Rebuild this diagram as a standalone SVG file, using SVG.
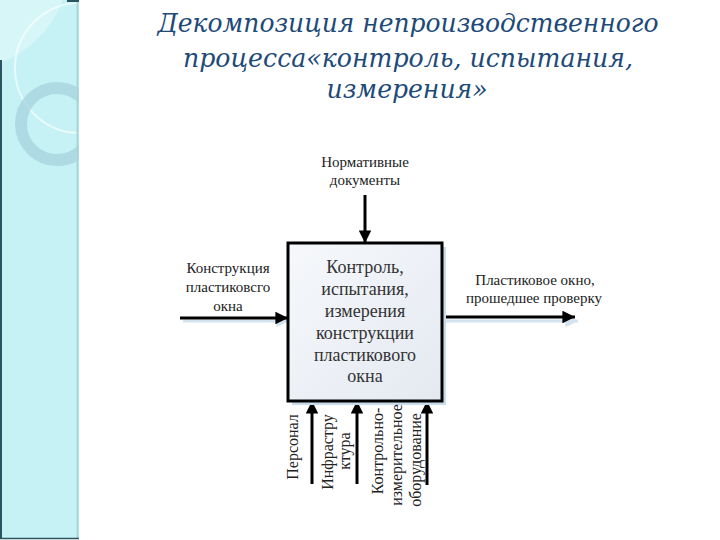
<svg xmlns="http://www.w3.org/2000/svg" width="720" height="540" viewBox="0 0 720 540">
  <defs>
    <clipPath id="stripClip"><rect x="0" y="0" width="79" height="540"/></clipPath>
    <linearGradient id="boxFill" x1="0" y1="0" x2="1" y2="1">
      <stop offset="0" stop-color="#f6f8fb"/>
      <stop offset="1" stop-color="#e4e9f1"/>
    </linearGradient>
    <marker id="head" viewBox="0 0 10 10" refX="10" refY="5" markerWidth="5" markerHeight="4.2" markerUnits="strokeWidth" orient="auto">
      <path d="M0,0 L10,5 L0,10 Z" fill="#000"/>
    </marker>
    <marker id="headShadow" viewBox="0 0 10 10" refX="10" refY="5" markerWidth="5" markerHeight="4.2" markerUnits="strokeWidth" orient="auto">
      <path d="M0,0 L10,5 L0,10 Z" fill="#d3e3f0"/>
    </marker>
  </defs>
  <style>
    .title { font-family: 'DejaVu Serif', 'Liberation Serif', 'Noto Serif', 'Times New Roman', serif; font-style: italic; font-size: 26px; fill: #1d4a78; text-anchor: middle; }
    .lbl { font-family: 'Liberation Serif', 'Times New Roman', 'DejaVu Serif', 'Noto Serif', serif; font-size: 15px; fill: #222; text-anchor: middle; }
    .vlbl { font-family: 'Liberation Serif', 'Times New Roman', 'DejaVu Serif', 'Noto Serif', serif; font-size: 16px; fill: #222; text-anchor: middle; }
    .boxtxt { font-family: 'Liberation Serif', 'Times New Roman', 'DejaVu Serif', 'Noto Serif', serif; font-size: 18px; fill: #333; text-anchor: middle; }
    .arrow { stroke: #000; stroke-width: 3; fill: none; marker-end: url(#head); }
    .shadow { stroke: #d3e3f0; stroke-width: 3; fill: none; marker-end: url(#headShadow); }
  </style>

  <rect x="0" y="0" width="720" height="540" fill="#ffffff"/>

  <!-- decorative left strip -->
  <g id="strip">
    <rect x="0" y="0" width="79" height="539" fill="#c6f2f5"/>
    <g clip-path="url(#stripClip)">
      <path d="M0,0 H63 Q45,45 0,63 Z" fill="#ffffff" opacity="0.3"/>
      <circle cx="80" cy="68" r="65" fill="none" stroke="#ffffff" stroke-width="2" opacity="0.6"/>
      <circle cx="57" cy="124" r="36" fill="none" stroke="#a6d3dc" stroke-width="12" opacity="0.75"/>
    </g>
    <line x1="77.5" y1="0" x2="77.5" y2="539" stroke="#a9d5da" stroke-width="2"/>
    <line x1="1" y1="60" x2="1" y2="539" stroke="#2b5560" stroke-width="2"/>
    <line x1="0" y1="538.5" x2="79" y2="538.5" stroke="#2b5560" stroke-width="1.5"/>
    <line x1="67" y1="1" x2="79" y2="1" stroke="#2b5560" stroke-width="2"/>
  </g>

  <!-- title -->
  <g id="title">
    <text class="title" x="408" y="32" textLength="501" lengthAdjust="spacingAndGlyphs">Декомпозиция непроизводственного</text>
    <text class="title" x="408" y="67" textLength="450" lengthAdjust="spacingAndGlyphs">процесса«контроль, испытания,</text>
    <text class="title" x="407" y="98" textLength="161" lengthAdjust="spacingAndGlyphs">измерения»</text>
  </g>

  <!-- connectors -->
  <g id="connectors">
    <line class="shadow" x1="183" y1="321" x2="289" y2="321"/>
    <line class="shadow" x1="445" y1="321" x2="578" y2="321"/>
    <line class="arrow" x1="365" y1="195" x2="365" y2="243"/>
    <line class="arrow" x1="180" y1="318" x2="288" y2="318"/>
    <line class="arrow" x1="442" y1="317" x2="575" y2="317"/>
    <line class="arrow" x1="312" y1="484" x2="312" y2="401"/>
    <line class="arrow" x1="357" y1="484" x2="357" y2="401"/>
    <line class="arrow" x1="427" y1="485" x2="427" y2="401"/>
  </g>

  <!-- main activity box -->
  <g id="box">
    <rect x="292" y="247" width="154" height="158" fill="#c9dcec"/>
    <rect x="288" y="243" width="154" height="158" fill="url(#boxFill)" stroke="#000" stroke-width="3"/>
    <text class="boxtxt" x="365" y="273">Контроль,</text>
    <text class="boxtxt" x="365" y="295">испытания,</text>
    <text class="boxtxt" x="365" y="317">измерения</text>
    <text class="boxtxt" x="365" y="339">конструкции</text>
    <text class="boxtxt" x="365" y="361">пластикового</text>
    <text class="boxtxt" x="365" y="382">окна</text>
  </g>

  <!-- control -->
  <g id="control">
    <text class="lbl" x="365" y="167">Нормативные</text>
    <text class="lbl" x="365" y="185">документы</text>
  </g>

  <!-- input -->
  <g id="input">
    <text class="lbl" x="228" y="273">Конструкция</text>
    <text class="lbl" x="228" y="292">пластиковсго</text>
    <text class="lbl" x="228" y="311">окна</text>
  </g>

  <!-- output -->
  <g id="output">
    <text class="lbl" x="535" y="285">Пластиковое окно,</text>
    <text class="lbl" x="534" y="303">прошедшее проверку</text>
  </g>

  <!-- mechanisms -->
  <g id="mech-personnel">
    <text class="vlbl" transform="translate(298,447) rotate(-90)">Персонал</text>
  </g>
  <g id="mech-infrastructure">
    <text class="vlbl" transform="translate(333,452) rotate(-90)">Инфрастру</text>
    <text class="vlbl" transform="translate(350,451) rotate(-90)">ктура</text>
  </g>
  <g id="mech-equipment">
    <text class="vlbl" transform="translate(383,451) rotate(-90)">Контрольно-</text>
    <text class="vlbl" transform="translate(402,455) rotate(-90)">измерительное</text>
    <text class="vlbl" transform="translate(421,460) rotate(-90)">оборудование</text>
  </g>
</svg>
